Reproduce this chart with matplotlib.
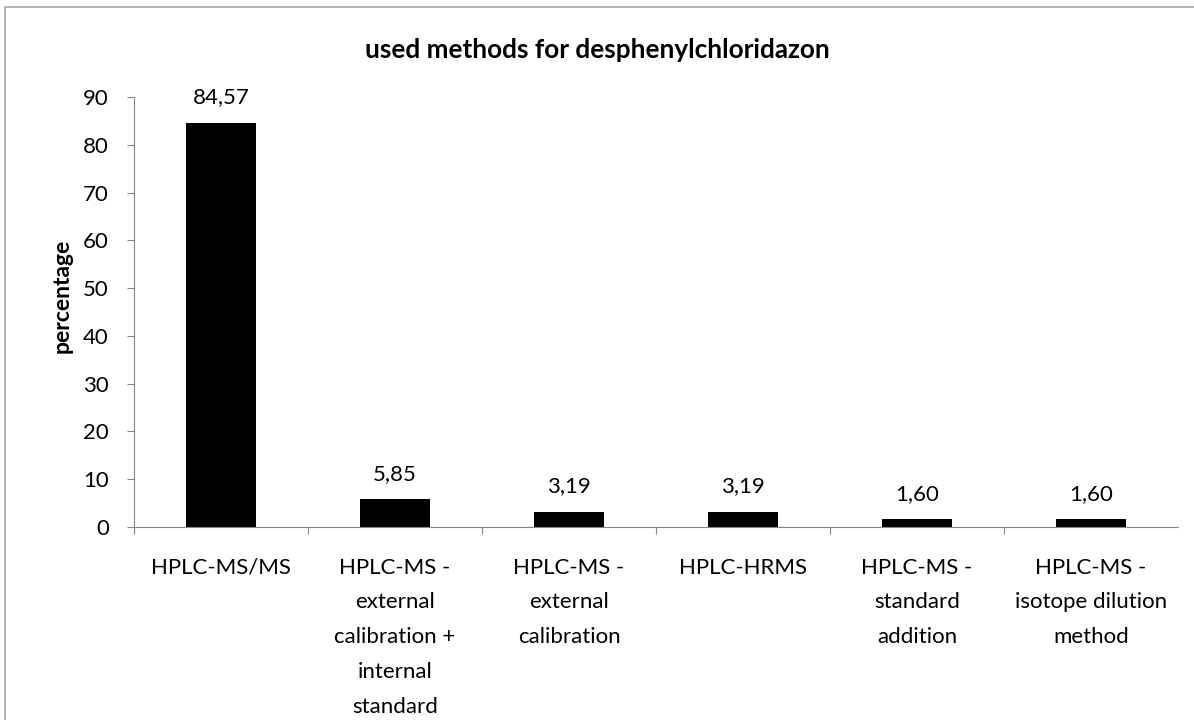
import matplotlib.pyplot as plt
from matplotlib.patches import Rectangle

categories = ["HPLC-MS/MS",
              "HPLC-MS -\nexternal\ncalibration +\ninternal\nstandard",
              "HPLC-MS -\nexternal\ncalibration",
              "HPLC-HRMS",
              "HPLC-MS -\nstandard\naddition",
              "HPLC-MS -\nisotope dilution\nmethod"]
values = [84.57, 5.85, 3.19, 3.19, 1.60, 1.60]
yticks = [0, 10, 20, 30, 40, 50, 60, 70, 80, 90]

plt.rcParams['font.family'] = ['Lato', 'DejaVu Sans']
FS = 16

fig = plt.figure(figsize=(11.94, 7.2), dpi=100)
W, H = 1194, 720
# chart border
fig.patches.append(Rectangle((5 / W, -0.1), 1.1, 1 - 7 / H + 0.1, transform=fig.transFigure,
                             fill=False, edgecolor='#a6a6a6', linewidth=1.2))

ax = fig.add_axes([134 / W, 1 - 527 / H, (1178 - 134) / W, (527 - 97) / H])
x = list(range(len(categories)))
ax.bar(x, values, width=0.4, color='black')
ax.set_xlim(-0.5, len(categories) - 0.5)
ax.set_ylim(0, 90)
ax.set_yticks(yticks)
ax.tick_params(axis='y', labelsize=FS, length=5, color='#868686', pad=13)
ax.set_xticks([i + 0.5 for i in x[:-1]] + [-0.5])
ax.set_xticklabels([])
ax.tick_params(axis='x', length=5, color='#868686', direction='out')
for i, c in enumerate(categories):
    ax.annotate(c, (i, 0), xytext=(0, -22), textcoords='offset points',
                ha='center', va='top', fontsize=FS, linespacing=1.93)
for i, v in enumerate(values):
    ax.annotate(f"{v:.2f}".replace('.', ','), (i, v), xytext=(0, 14), textcoords='offset points',
                ha='center', va='baseline', fontsize=FS)

for s in ['top', 'right']:
    ax.spines[s].set_visible(False)
for s in ['left', 'bottom']:
    ax.spines[s].set_color('#868686')

fig.text(62 / W, 1 - 296 / H, 'percentage', rotation=90, ha='center', va='center',
         fontsize=16.5, fontweight='bold')
fig.text(0.5, 1 - 50 / H, 'used methods for desphenylchloridazon', ha='center', va='center',
         fontsize=18.8, fontweight='bold')

fig.savefig('out.png', dpi=100)
